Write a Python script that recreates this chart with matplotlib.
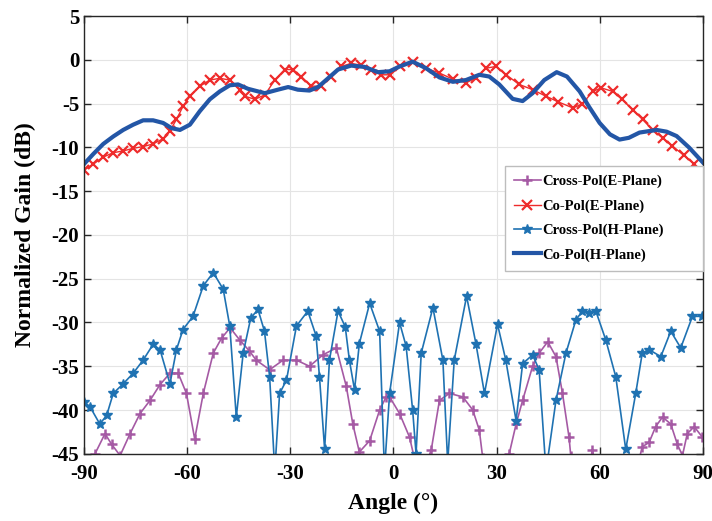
import numpy as np
import matplotlib
matplotlib.use('Agg')
import matplotlib.pyplot as plt

plt.rcParams['font.family'] = ['Liberation Serif', 'DejaVu Serif']
plt.rcParams['font.weight'] = 'bold'
plt.rcParams['axes.unicode_minus'] = False

# Cross-Pol (E-Plane)
xe_ang = [-89, -86.8, -83.9, -82.0, -79.5, -76.6, -73.7, -70.8, -67.9, -65, -62.6, -60.2, -57.8,
          -55.3, -52.4, -50.0, -47.5, -44.7, -42.0, -39.9, -36, -32.1, -28.2, -24.4, -20.5, -16.6,
          -13.7, -11.8, -9.9, -6.9, -4.0, -2.1, -1.1, 1.8, 4.7, 6.1, 8.5, 11, 13.4, 16.3, 20.2, 23.1,
          25, 26, 27, 30, 33.7, 35.7, 37.6, 40.5, 42.4, 44.9, 47.3, 49.2, 51.1, 51.6, 53, 56.5,
          57.9, 59.3, 70, 72.4, 74.4, 76.3, 78.3, 80.7, 82.6, 84.1, 85.5, 87.5, 89.9]
xe_val = [-47, -45.0, -42.7, -43.9, -45.2, -42.7, -40.4, -38.9, -37.1, -35.8, -35.8, -38.1, -43.3,
          -38.1, -33.5, -31.8, -30.6, -32.0, -33.2, -34.3, -35.4, -34.3, -34.3, -35.0, -33.7, -32.9,
          -37.3, -41.6, -44.8, -43.5, -40.0, -38.5, -38.5, -40.4, -43.1, -45.5, -47, -44.6, -38.9,
          -38.1, -38.5, -40.0, -42.3, -45.5, -48, -50, -45.0, -41.6, -38.9, -35.0, -33.5, -32.2,
          -33.9, -38.1, -43.1, -45.2, -48, -47, -44.6, -47, -48, -44.2, -43.7, -41.9, -40.8, -41.6,
          -43.9, -45.2, -42.7, -41.9, -43.1]

# Co-Pol (E-Plane)
ce_ang = [-90, -87.3, -84.4, -81.5, -78.6, -75.7, -72.8, -69.9, -67, -65, -63.1, -61.2, -59.2,
          -56.3, -53.4, -50.5, -47.6, -44.7, -43.2, -40.3, -37.4, -34.5, -31.6, -29.2, -26.8,
          -23.9, -21, -18.1, -15.2, -12.3, -9.4, -6.5, -3.5, -1.1, 1.8, 5.6, 9.5, 13.4, 17.3, 21.1,
          24, 26.9, 29.8, 32.8, 36.6, 40.5, 44.4, 48, 52.3, 55, 58, 60.5, 63.8, 66.5, 69.6, 72.5,
          75.4, 78.3, 81.2, 84.5, 87.5, 90]
ce_val = [-12.6, -11.9, -11.1, -10.6, -10.4, -10.1, -9.9, -9.6, -9.0, -8.1, -6.8, -5.3, -4.15,
          -3.0, -2.3, -2.1, -2.3, -3.4, -4.15, -4.5, -4.0, -2.3, -1.1, -1.1, -1.9, -3.0, -3.0, -1.9,
          -0.75, -0.4, -0.6, -1.2, -1.7, -1.7, -0.75, -0.2, -0.95, -1.5, -2.2, -2.6, -2.1, -0.95,
          -0.75, -1.7, -2.8, -3.4, -4.15, -4.8, -5.5, -5.0, -3.6, -3.2, -3.6, -4.5, -5.7, -6.8,
          -8.0, -8.9, -9.85, -10.9, -11.9, -12.8]

# Cross-Pol (H-Plane)
xh_ang = [-90, -88.3, -85.4, -83.4, -81.5, -78.6, -75.7, -72.8, -69.9, -67.9, -65, -63.1, -61.2,
          -58.3, -55.3, -52.4, -49.5, -47.6, -45.7, -43.7, -41.5, -39.4, -37.5, -36, -34.5, -33.1,
          -31.1, -28.2, -24.9, -22.5, -21.5, -20, -18.6, -16.1, -14, -12.8, -11.3, -9.9, -6.9, -4.0,
          -2.6, -1.1, 1.8, 3.7, 5.6, 6.6, 8.1, 11.5, 14.4, 15.8, 17.7, 21.3, 24.0, 26.5, 30.3, 32.7,
          35.7, 37.6, 40.5, 42.4, 44.4, 47.3, 50.2, 53.1, 55, 57, 58.9, 61.8, 64.7, 67.6, 70.5,
          72.4, 74.4, 77.8, 80.7, 83.6, 87, 89.9]
xh_val = [-39.1, -39.6, -41.6, -40.6, -38.1, -37.0, -35.8, -34.3, -32.5, -33.1, -37.0, -33.1, -30.8,
          -29.3, -25.8, -24.3, -26.2, -30.4, -40.8, -33.5, -29.5, -28.5, -31.0, -36.2, -47, -38.1,
          -36.6, -30.4, -28.7, -31.5, -36.2, -44.5, -34.3, -28.7, -30.5, -34.3, -37.7, -32.4, -27.8,
          -31.0, -47, -38.1, -30.0, -32.7, -40.0, -45, -33.5, -28.3, -34.3, -46, -34.3, -27.0, -32.4,
          -38.1, -30.2, -34.3, -41.2, -34.7, -33.7, -35.4, -47, -38.9, -33.5, -29.7, -28.7, -28.9,
          -28.7, -32.0, -36.2, -44.5, -38.1, -33.5, -33.1, -33.9, -31.0, -32.9, -29.3, -29.3]

# Co-Pol (H-Plane)
ch_ang = [-90, -87.3, -84.4, -81.5, -78.6, -75.7, -72.8, -69.9, -67, -64.5, -62.1, -59.2, -56.3,
          -53.4, -50.5, -47.6, -45.2, -42.3, -37.4, -33.6, -30.6, -27.8, -24.4, -21.9, -19, -16.1,
          -12.3, -8.4, -4.5, -1.1, 1.8, 5.6, 9.5, 13.4, 17.3, 21.1, 25, 27.9, 30.8, 34.7, 37.6, 40.5,
          43.9, 47.5, 50.5, 54.2, 57, 60, 63, 65.8, 68.5, 71.6, 76.6, 79.5, 82.4, 86, 90]
ch_val = [-11.9, -10.75, -9.6, -8.75, -8.0, -7.4, -6.9, -6.9, -7.2, -7.8, -8.0, -7.4, -5.85, -4.5,
          -3.6, -2.9, -2.8, -3.3, -3.8, -3.4, -3.1, -3.4, -3.5, -3.1, -2.1, -1.1, -0.65, -0.8, -1.4,
          -1.3, -0.75, -0.2, -0.95, -2.0, -2.5, -2.3, -1.7, -1.9, -2.8, -4.45, -4.7, -3.8, -2.3,
          -1.4, -1.9, -3.6, -5.4, -7.2, -8.5, -9.1, -8.9, -8.3, -8.0, -8.2, -8.7, -10.0, -11.7]

fig = plt.figure(figsize=(7.12, 5.21), dpi=100)
ax = fig.add_axes([0.118, 0.129, 0.869, 0.840])

ax.plot(xe_ang, xe_val, color='#a55aa4', lw=1.2, marker='+', ms=7, mew=1.8,
        label='Cross-Pol(E-Plane)')
ax.plot(ce_ang, ce_val, color='#ee2b2b', lw=1.0, marker='x', ms=6.5, mew=1.6,
        label='Co-Pol(E-Plane)')
ax.plot(xh_ang, xh_val, color='#1f72b2', lw=1.2, marker='*', ms=7.5, mew=1.0,
        label='Cross-Pol(H-Plane)')
ax.plot(ch_ang, ch_val, color='#2356a6', lw=3.0, label='Co-Pol(H-Plane)')

ax.set_xlim(-90, 90)
ax.set_ylim(-45, 5)
ax.set_xticks(np.arange(-90, 91, 30))
ax.set_yticks(np.arange(-45, 6, 5))
ax.grid(True, color='#e4e4e4', lw=0.8)
ax.set_axisbelow(True)
ax.tick_params(direction='in', top=True, right=True, length=5, labelsize=15,
               color='#262626', width=1)
ax.tick_params(axis='x', pad=7)
for s in ax.spines.values():
    s.set_color('#262626')
    s.set_linewidth(1.0)
for lab in ax.get_xticklabels() + ax.get_yticklabels():
    lab.set_fontweight('bold')

ax.set_xlabel('Angle (°)', fontsize=17, fontweight='bold', labelpad=7)
ax.set_ylabel('Normalized Gain (dB)', fontsize=17, fontweight='bold', labelpad=11)

# legend box stretched to the MATLAB-like width
leg = ax.legend(loc='upper left', bbox_to_anchor=(0.680, 0.40, 0.32, 0.257), mode='expand',
                prop={'weight': 'bold', 'size': 10.5}, fancybox=False, framealpha=1,
                edgecolor='#bdbdbd', handlelength=1.9, handletextpad=0.05,
                borderpad=0.6, labelspacing=0.75, borderaxespad=0.0)
leg.get_frame().set_linewidth(1.0)

fig.savefig('out.png', dpi=100)
